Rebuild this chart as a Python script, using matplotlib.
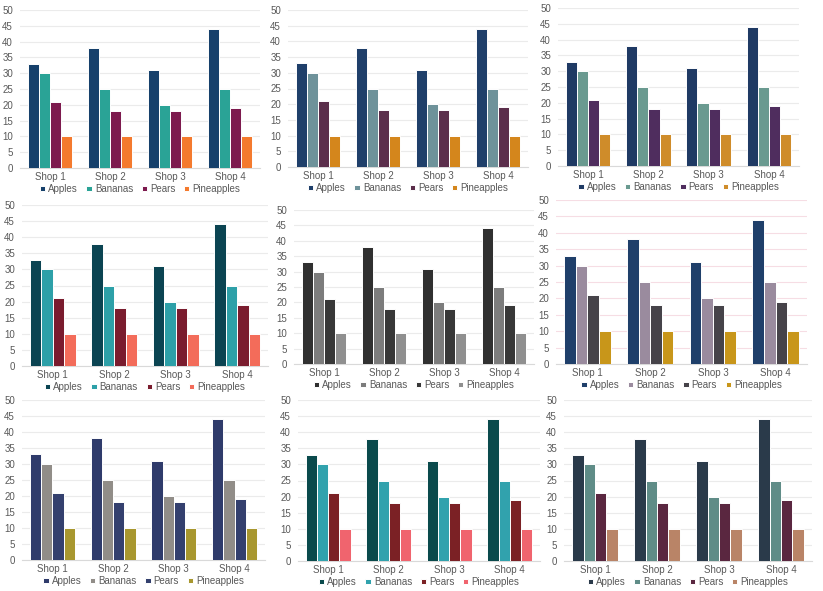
import numpy as np
import matplotlib.pyplot as plt

shops = ['Shop 1', 'Shop 2', 'Shop 3', 'Shop 4']
fruits = ['Apples', 'Bananas', 'Pears', 'Pineapples']
apples = [33, 38, 31, 44]
bananas = [30, 25, 20, 25]
pears = [21, 18, 18, 19]
pineapples = [10, 10, 10, 10]
series = [apples, bananas, pears, pineapples]

# one colour set per panel, row by row
palettes = [
    ['#16406B', '#2AA396', '#7D1A4E', '#F47A2E'],
    ['#1F3F6A', '#6E929A', '#5B2E4B', '#D4861C'],
    ['#1F3A64', '#6A9A90', '#4F2D5E', '#CF8C2A'],
    ['#0B4452', '#2DA0A8', '#7A1C2E', '#F36C5A'],
    ['#303030', '#7C7C7C', '#383838', '#8F8F8F'],
    ['#1F3F6A', '#9A8B9E', '#464349', '#C8961A'],
    ['#2F3B6B', '#918D88', '#34406E', '#A8972F'],
    ['#0A4A4C', '#31A2AD', '#7B2125', '#F0646E'],
    ['#2A3A4A', '#5F8C87', '#5A2740', '#B98467'],
]
grid_colors = ['#EBEBEB'] * 9
grid_colors[5] = '#F6DDE4'

# panel boxes in pixels: left, right, y of 50, y of 0
boxes = [
    (20, 260, 10, 168), (288, 528, 10, 167), (558, 799, 8, 166),
    (22, 268, 205, 366), (294, 534, 210, 364), (556, 807, 200, 364),
    (22, 265, 400, 560), (298, 540, 400, 561), (564, 812, 400, 561),
]

W, H = 823, 591
plt.rcParams['font.family'] = ['Liberation Sans', 'DejaVu Sans']
fig = plt.figure(figsize=(W / 100, H / 100), dpi=100)

x = np.arange(len(shops))
step = 0.185
txt = '#595959'

for (l, r, t, b), cols, gc in zip(boxes, palettes, grid_colors):
    ax = fig.add_axes([l / W, 1 - b / H, (r - l) / W, (b - t) / H])
    for i, (vals, c) in enumerate(zip(series, cols)):
        ax.bar(x + (i - 1.5) * step, vals, step, color=c, edgecolor='white',
               linewidth=0.7, label=fruits[i], zorder=3)
    ax.set_xlim(-0.5, 3.5)
    ax.set_ylim(0, 50)
    ax.set_yticks(range(0, 51, 5))
    ax.set_xticks(x)
    ax.set_xticklabels(shops)
    ax.grid(axis='y', color=gc, linewidth=0.8, zorder=0)
    for s in ['top', 'right', 'left']:
        ax.spines[s].set_visible(False)
    ax.spines['bottom'].set_color('#D9D9D9')
    ax.tick_params(length=0, labelsize=7, colors=txt, pad=5)
    ax.tick_params(axis='x', pad=3)
    ax.legend(loc='center', bbox_to_anchor=((l + r) / 2 / W, 1 - (b + 21) / H),
              bbox_transform=fig.transFigure, ncol=4, frameon=False,
              fontsize=7, labelcolor=txt, handlelength=0.55, handleheight=0.55,
              handletextpad=0.3, columnspacing=0.9, borderpad=0)

fig.savefig('out.png', dpi=100, facecolor='white')
